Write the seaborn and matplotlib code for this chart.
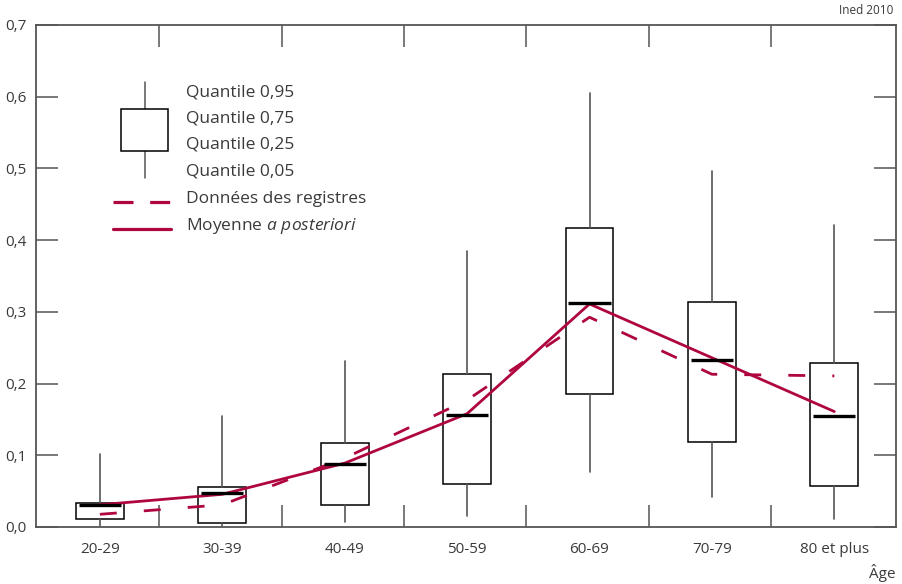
import numpy as np
import pandas as pd
import matplotlib
matplotlib.use("Agg")
import matplotlib.pyplot as plt
import seaborn as sns

# values
ages = ["20-29", "30-39", "40-49", "50-59", "60-69", "70-79", "80 et plus"]
q05 = [0.001, 0.001, 0.0074, 0.0153, 0.077, 0.0416, 0.0113]
q25 = [0.0116, 0.005, 0.030, 0.0595, 0.185, 0.118, 0.0572]
median = [0.030, 0.047, 0.0874, 0.156, 0.313, 0.2326, 0.1545]
q75 = [0.033, 0.056, 0.117, 0.214, 0.4166, 0.3144, 0.229]
q95 = [0.102, 0.155, 0.231, 0.385, 0.605, 0.4965, 0.4205]
registres = [0.0177, 0.031, 0.096, 0.177, 0.2925, 0.213, 0.2107]
posteriori = [0.031, 0.0456, 0.089, 0.158, 0.311, 0.236, 0.161]

RED = "#B0063E"
TXT = "#3a3a3a"
GRAY = "#555555"
DASH = (0, (12.2, 19.5))

sns.set_style("white")
plt.rcParams["font.family"] = ["Open Sans", "DejaVu Sans"]
plt.rcParams["mathtext.fontset"] = "custom"
plt.rcParams["mathtext.rm"] = "Open Sans"
plt.rcParams["mathtext.it"] = "Open Sans:italic"
plt.rcParams["lines.scale_dashes"] = False

fig = plt.figure(figsize=(9.02, 5.84), dpi=100)
ax = fig.add_axes([36 / 902, 1 - 527 / 584, 860 / 902, 502 / 584])

pos = np.arange(len(ages))
stats = [dict(med=m, q1=a, q3=b, whislo=lo, whishi=hi, fliers=[])
         for m, a, b, lo, hi in zip(median, q25, q75, q05, q95)]
ax.bxp(stats, positions=pos, widths=0.39, showcaps=False, patch_artist=True,
       boxprops=dict(facecolor="white", edgecolor="black", linewidth=1.1),
       whiskerprops=dict(color=GRAY, linewidth=1.2),
       medianprops=dict(visible=False), zorder=2)
ax.hlines(median, pos - 0.172, pos + 0.172, color="black", linewidth=2.4, zorder=4)

lines = pd.DataFrame({"pos": pos, "registres": registres, "posteriori": posteriori})
sns.lineplot(data=lines, x="pos", y="registres", ax=ax, color=RED, linewidth=2.0,
             linestyle=DASH, zorder=3)
sns.lineplot(data=lines, x="pos", y="posteriori", ax=ax, color=RED, linewidth=2.0, zorder=3)

ax.set_xlim(-0.522, len(ages) - 0.496)
ax.set_ylim(0, 0.7)
ax.set_xlabel("")
ax.set_ylabel("")

ax.set_xticks(pos)
ax.set_xticklabels(ages)
ax.set_xticks(pos[:-1] + 0.485, minor=True)
ax.tick_params(axis="x", which="major", length=0, pad=11, labelsize=11, labelcolor=TXT)
ax.tick_params(axis="x", which="minor", direction="in", length=15.5, width=1.1,
               color=GRAY, top=True, bottom=True)
yt = np.round(np.arange(0, 0.71, 0.1), 1)
ax.set_yticks(yt)
ax.set_yticklabels([f"{v:.1f}".replace(".", ",") for v in yt])
ax.tick_params(axis="y", direction="in", length=15.8, width=1.1, color=GRAY,
               left=True, right=True, pad=7, labelsize=11, labelcolor=TXT)
for s in ax.spines.values():
    s.set_color(GRAY)
    s.set_linewidth(1.3)

# legend drawn as a schematic box
tr = ax.transAxes
ax.plot([0.1264, 0.1264], [0.6958, 0.8865], transform=tr, color=GRAY, lw=1.1, zorder=2)
ax.add_patch(plt.Rectangle((0.0992, 0.7496), 0.0546, 0.0831, transform=tr,
                           facecolor="white", edgecolor="black", lw=1.1, zorder=3))
ax.plot([0.0895, 0.1575], [0.6474, 0.6474], transform=tr, color=RED, lw=2.3,
        linestyle=(0, (14.4, 12.0)))
ax.plot([0.0895, 0.1575], [0.5936, 0.5936], transform=tr, color=RED, lw=2.3)
labels = ["Quantile 0,95", "Quantile 0,75", "Quantile 0,25", "Quantile 0,05",
          "Données des registres", r"Moyenne $\mathit{a\ posteriori}$"]
ys = [0.8665, 0.8147, 0.761, 0.7072, 0.6534, 0.5996]
for lab, y in zip(labels, ys):
    ax.text(0.1744, y, lab, transform=tr, ha="left", va="center", fontsize=12.5, color=TXT)

fig.text(893 / 902, 1 - 11 / 584, "Ined 2010", ha="right", va="center", fontsize=8.5, color=TXT)
fig.text(896 / 902, 1 - 573 / 584, "Âge", ha="right", va="center", fontsize=11, color=TXT)

fig.savefig("out.png", dpi=100)
